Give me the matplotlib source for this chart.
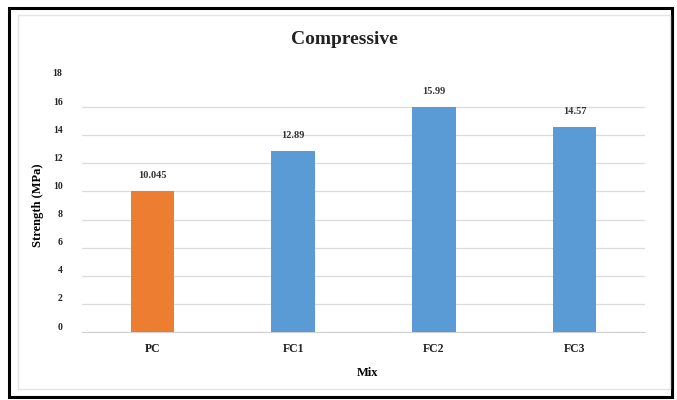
import matplotlib
matplotlib.use("Agg")
import matplotlib.pyplot as plt
import matplotlib.transforms as mtransforms
from matplotlib.patches import Rectangle

# Compressive strength per mix (MPa)
mixes = ["PC", "FC1", "FC2", "FC3"]
strength = [10.045, 12.89, 15.99, 14.57]
value_labels = ["10.045", "12.89", "15.99", "14.57"]
bar_colors = ["#ED7D31", "#5B9BD5", "#5B9BD5", "#5B9BD5"]
y_ticks = [0, 2, 4, 6, 8, 10, 12, 14, 16, 18]

plt.rcParams["font.family"] = ["Liberation Serif", "DejaVu Serif"]
plt.rcParams["font.weight"] = "bold"

fig = plt.figure(figsize=(6.77, 4.0), dpi=100)
W, H = 677, 400

# outer black frame and the faint chart-area frame inside it
fig.patches.append(Rectangle((9 / W, 1 - 397 / H), 663 / W, 389 / H,
                             transform=fig.transFigure, fill=False,
                             edgecolor="black", linewidth=2.2))
fig.patches.append(Rectangle((18 / W, 1 - 389 / H), 652 / W, 374 / H,
                             transform=fig.transFigure, fill=False,
                             edgecolor="#e4e4e4", linewidth=1.0))

ax = fig.add_axes([82 / W, 1 - 332 / H, 563 / W, 253 / H])
x = range(len(mixes))
bars = ax.bar(x, strength, width=0.31, color=bar_colors, zorder=3)

for rect, lab in zip(bars, value_labels):
    ax.annotate(lab, (rect.get_x() + rect.get_width() / 2, rect.get_height()),
                xytext=(0, 8), textcoords="offset points",
                ha="center", va="bottom", fontsize=7.5, fontweight="bold",
                color="#333333")

ax.set_xlim(-0.5, 3.5)
ax.set_ylim(0, 18)
ax.set_yticks(y_ticks)
ax.set_xticks(list(x))
ax.set_xticklabels(mixes, fontsize=8.5, fontweight="bold", color="#222222")
ax.tick_params(axis="y", labelsize=7, colors="#222222", length=0, pad=14)
ax.tick_params(axis="x", length=0, pad=8)

# y tick labels sit a little above their gridlines
shift = mtransforms.ScaledTranslation(0, 6 / 100, fig.dpi_scale_trans)
for lab in ax.get_yticklabels():
    lab.set_transform(lab.get_transform() + shift)

ax.grid(axis="y", color="#dcdcdc", linewidth=0.9, zorder=0)
# no gridline drawn at the top of the scale
ax.get_ygridlines()[-1].set_visible(False)
for side in ["top", "right", "left"]:
    ax.spines[side].set_visible(False)
ax.spines["bottom"].set_color("#d0d0d0")

ax.set_ylabel("Strength (MPa)", fontsize=9, fontweight="bold")
ax.yaxis.set_label_coords(-0.068, 0.5)
ax.set_xlabel("Mix", fontsize=9, fontweight="bold")
ax.xaxis.set_label_coords(0.507, -0.14)

fig.text(344 / W, 1 - 39 / H, "Compressive", ha="center", va="center",
         fontsize=14, fontweight="bold", color="#222222")

fig.savefig("out.png", dpi=100)
